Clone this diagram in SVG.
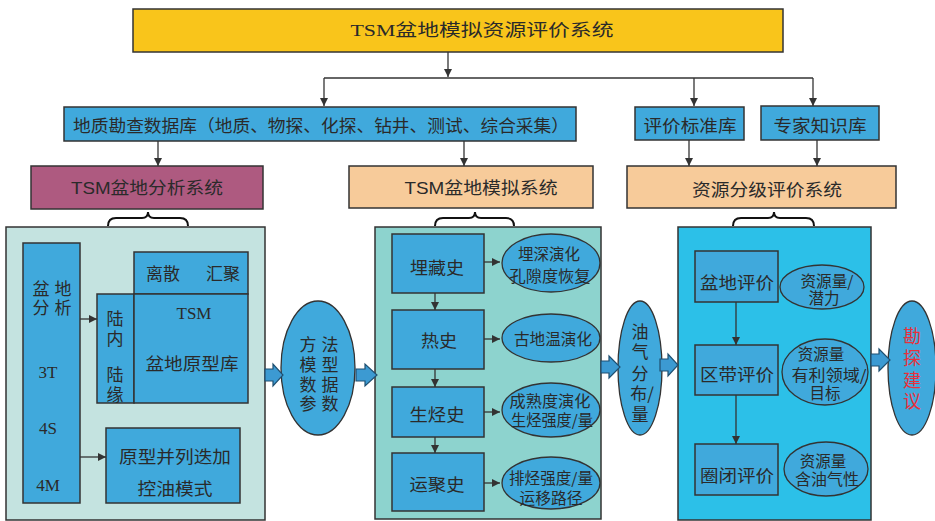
<svg xmlns="http://www.w3.org/2000/svg" width="935" height="521" viewBox="0 0 935 521">
<defs>
<marker id="ah" markerWidth="8" markerHeight="8" refX="8" refY="4" orient="auto" markerUnits="userSpaceOnUse">
<path d="M0,0 L8,4 L0,8 z" fill="#333"/>
</marker>
</defs>
<style>
.bx{stroke:#333;stroke-width:1.5}
.blue{fill:#40A9DC}
.el{fill:#40A9DC;stroke:#333;stroke-width:1.3}
.t{font-family:"Noto Sans CJK SC",sans-serif;fill:#2a2a2a;dominant-baseline:central;text-anchor:middle;font-size:17px}
.sf{font-family:"Liberation Serif","Noto Sans CJK SC",serif}
.ss{font-family:"Liberation Sans","Noto Sans CJK SC",sans-serif}
.s15{font-size:15.5px}
.red{fill:#E8303A;font-size:18px}
.conn{stroke:#333;stroke-width:1.3;fill:none}
.brace{stroke:#111;stroke-width:2;fill:none}
.barrow{fill:#3C9AD2;stroke:#1f4f70;stroke-width:1.2}
</style>
<rect width="935" height="521" fill="#fff"/>

<g id="top">
<rect class="bx" x="133" y="9" width="650" height="43" fill="#F9C51B"/>
<text class="t sf" x="482" y="30" font-size="19" textLength="263" lengthAdjust="spacingAndGlyphs">TSM盆地模拟资源评价系统</text>
</g>
<g id="geodb">
<rect class="bx blue" x="64" y="107" width="512" height="34"/>
<text class="t" x="321" y="124" font-size="16.5" textLength="496" lengthAdjust="spacingAndGlyphs">地质勘查数据库（地质、物探、化探、钻井、测试、综合采集）</text>
</g>
<g id="standard">
<rect class="bx blue" x="635" y="107" width="109" height="33"/>
<text class="t" x="690" y="124" textLength="93" lengthAdjust="spacingAndGlyphs">评价标准库</text>
</g>
<g id="expert">
<rect class="bx blue" x="761" y="106" width="118" height="34"/>
<text class="t" x="820" y="124" textLength="93" lengthAdjust="spacingAndGlyphs">专家知识库</text>
</g>
<g id="analysis">
<rect class="bx" x="31" y="166" width="232" height="43" fill="#AE5A80"/>
<text class="t ss" x="147" y="188" textLength="152" lengthAdjust="spacingAndGlyphs">TSM盆地分析系统</text>
</g>
<g id="simulation">
<rect class="bx" x="349" y="166" width="244" height="42" fill="#F7CB9A"/>
<text class="t ss" x="481" y="188" textLength="153" lengthAdjust="spacingAndGlyphs">TSM盆地模拟系统</text>
</g>
<g id="grading">
<rect class="bx" x="627" y="166" width="269" height="42" fill="#F7CB9A"/>
<text class="t" x="767" y="188" textLength="150" lengthAdjust="spacingAndGlyphs">资源分级评价系统</text>
</g>

<g id="braces">
<path class="brace" d="M108,226 Q108,218 116,218 L142,218 Q148,218 148,212 Q148,218 154,218 L180,218 Q188,218 188,226"/>
<path class="brace" d="M435,226 Q435,218 443,218 L469,218 Q475,218 475,212 Q475,218 481,218 L506,218 Q514,218 514,226"/>
<path class="brace" d="M733,226 Q733,218 741,218 L768,218 Q774,218 774,212 Q774,218 780,218 L806,218 Q814,218 814,226"/>
</g>

<g id="leftpanel">
<rect class="bx" x="6" y="227" width="259" height="293" fill="#C4E3E0"/>
</g>
<g id="basinbox">
<rect class="bx blue" x="23" y="243" width="57" height="260"/>
<text class="t"><tspan x="41" y="287">盆</tspan><tspan x="63" y="287">地</tspan><tspan x="41" y="306">分</tspan><tspan x="63" y="306">析</tspan></text>
<text class="t sf" x="48" y="372" font-size="20">3T</text>
<text class="t sf" x="48" y="428" font-size="20">4S</text>
<text class="t sf" x="48" y="485" font-size="20">4M</text>
</g>
<g id="lisan">
<rect class="bx blue" x="134" y="252" width="114" height="42"/>
<text class="t" x="163" y="272">离散</text>
<text class="t" x="223" y="272">汇聚</text>
</g>
<g id="luneiluyuan">
<rect class="bx blue" x="97" y="294" width="37" height="109"/>
<text class="t"><tspan x="115" y="317">陆</tspan><tspan x="115" y="337">内</tspan><tspan x="115" y="373">陆</tspan><tspan x="115" y="393">缘</tspan></text>
</g>
<g id="prototype">
<rect class="bx blue" x="134" y="294" width="114" height="109"/>
<text class="t sf" x="194" y="313" font-size="19">TSM</text>
<text class="t" x="192" y="362" textLength="93" lengthAdjust="spacingAndGlyphs">盆地原型库</text>
</g>
<g id="parallel">
<rect class="bx blue" x="106" y="428" width="134" height="75"/>
<text class="t" x="175" y="455" textLength="112" lengthAdjust="spacingAndGlyphs">原型并列迭加</text>
<text class="t" x="175" y="487" textLength="75" lengthAdjust="spacingAndGlyphs">控油模式</text>
</g>

<g id="method">
<ellipse class="el" cx="318" cy="368" rx="37" ry="67"/>
<text class="t"><tspan x="308" y="343">方</tspan><tspan x="330" y="343">法</tspan><tspan x="308" y="363">模</tspan><tspan x="330" y="363">型</tspan><tspan x="308" y="383">数</tspan><tspan x="330" y="383">据</tspan><tspan x="308" y="402">参</tspan><tspan x="330" y="402">数</tspan></text>
</g>

<g id="midpanel">
<rect class="bx" x="375" y="227" width="226" height="292" fill="#8DD3CE"/>
</g>
<g id="burial">
<rect class="bx blue" x="392" y="234" width="92" height="59"/>
<text class="t" x="437" y="266" textLength="54" lengthAdjust="spacingAndGlyphs">埋藏史</text>
</g>
<g id="thermal">
<rect class="bx blue" x="392" y="310" width="92" height="59"/>
<text class="t" x="439" y="339" textLength="36" lengthAdjust="spacingAndGlyphs">热史</text>
</g>
<g id="generation">
<rect class="bx blue" x="392" y="387" width="92" height="50"/>
<text class="t" x="437" y="413" textLength="55" lengthAdjust="spacingAndGlyphs">生烃史</text>
</g>
<g id="migration">
<rect class="bx blue" x="392" y="453" width="92" height="58"/>
<text class="t" x="437" y="483" textLength="55" lengthAdjust="spacingAndGlyphs">运聚史</text>
</g>
<g id="e1">
<ellipse class="el" cx="551" cy="263" rx="49" ry="29"/>
<text class="t s15"><tspan x="549" y="253" textLength="62" lengthAdjust="spacingAndGlyphs">埋深演化</tspan><tspan x="550" y="275" textLength="81" lengthAdjust="spacingAndGlyphs">孔隙度恢复</tspan></text>
</g>
<g id="e2">
<ellipse class="el" cx="551" cy="338" rx="49" ry="24"/>
<text class="t s15" x="553" y="338" textLength="78" lengthAdjust="spacingAndGlyphs">古地温演化</text>
</g>
<g id="e3">
<ellipse class="el" cx="551" cy="410" rx="49" ry="27"/>
<text class="t s15"><tspan x="550" y="400" textLength="81" lengthAdjust="spacingAndGlyphs">成熟度演化</tspan><tspan x="552" y="419" textLength="82" lengthAdjust="spacingAndGlyphs">生烃强度/量</tspan></text>
</g>
<g id="e4">
<ellipse class="el" cx="551" cy="483" rx="49" ry="26"/>
<text class="t s15"><tspan x="551" y="477" textLength="84" lengthAdjust="spacingAndGlyphs">排烃强度/量</tspan><tspan x="551" y="497" textLength="63" lengthAdjust="spacingAndGlyphs">运移路径</tspan></text>
</g>

<g id="oilgas">
<ellipse class="el" cx="640" cy="368" rx="22" ry="67"/>
<text class="t"><tspan x="640" y="330">油</tspan><tspan x="640" y="350">气</tspan><tspan x="640" y="372">分</tspan><tspan x="642" y="392">布/</tspan><tspan x="640" y="413">量</tspan></text>
</g>

<g id="rightpanel">
<rect class="bx" x="678" y="227" width="193" height="293" fill="#2CC0E8"/>
</g>
<g id="basineval">
<rect class="bx blue" x="695" y="251" width="83" height="51"/>
<text class="t" x="737" y="281" textLength="74" lengthAdjust="spacingAndGlyphs">盆地评价</text>
</g>
<g id="playeval">
<rect class="bx blue" x="695" y="345" width="83" height="50"/>
<text class="t" x="737" y="373" textLength="74" lengthAdjust="spacingAndGlyphs">区带评价</text>
</g>
<g id="trapeval">
<rect class="bx blue" x="695" y="444" width="83" height="51"/>
<text class="t" x="737" y="474" textLength="74" lengthAdjust="spacingAndGlyphs">圈闭评价</text>
</g>
<g id="r1">
<ellipse class="el" cx="822" cy="287" rx="42" ry="22"/>
<text class="t s15"><tspan x="827" y="280" textLength="53" lengthAdjust="spacingAndGlyphs">资源量/</tspan><tspan x="824" y="297">潜力</tspan></text>
</g>
<g id="r2">
<ellipse class="el" cx="825" cy="372" rx="43" ry="33"/>
<text class="t s15"><tspan x="821" y="353">资源量</tspan><tspan x="829" y="374" textLength="75" lengthAdjust="spacingAndGlyphs">有利领域/</tspan><tspan x="825" y="392">目标</tspan></text>
</g>
<g id="r3">
<ellipse class="el" cx="826" cy="469" rx="42" ry="27"/>
<text class="t s15"><tspan x="823" y="460">资源量</tspan><tspan x="827" y="478" textLength="64" lengthAdjust="spacingAndGlyphs">含油气性</tspan></text>
</g>

<g id="advice">
<ellipse class="el" cx="912" cy="368" rx="24" ry="67"/>
<text class="t red"><tspan x="912" y="335">勘</tspan><tspan x="912" y="357">探</tspan><tspan x="912" y="379">建</tspan><tspan x="912" y="400">议</tspan></text>
</g>

<g id="connectors">
<path class="conn" d="M448,52 V77" marker-end="url(#ah)"/>
<path class="conn" d="M324,78 H813"/>
<path class="conn" d="M324,78 V106" marker-end="url(#ah)"/>
<path class="conn" d="M694,78 V106" marker-end="url(#ah)"/>
<path class="conn" d="M813,78 V106" marker-end="url(#ah)"/>
<path class="conn" d="M158,141 V166" marker-end="url(#ah)"/>
<path class="conn" d="M464,141 V166" marker-end="url(#ah)"/>
<path class="conn" d="M689,140 V166" marker-end="url(#ah)"/>
<path class="conn" d="M817,140 V166" marker-end="url(#ah)"/>
<path class="conn" d="M80,319 H97" marker-end="url(#ah)"/>
<path class="conn" d="M80,457 H106" marker-end="url(#ah)"/>
<path class="conn" d="M435,293 V310" marker-end="url(#ah)"/>
<path class="conn" d="M435,369 V387" marker-end="url(#ah)"/>
<path class="conn" d="M435,437 V453" marker-end="url(#ah)"/>
<path class="conn" d="M484,262 H500" marker-end="url(#ah)"/>
<path class="conn" d="M484,339 H500" marker-end="url(#ah)"/>
<path class="conn" d="M484,412 H500" marker-end="url(#ah)"/>
<path class="conn" d="M484,483 H500" marker-end="url(#ah)"/>
<path class="conn" d="M736,302 V345" marker-end="url(#ah)"/>
<path class="conn" d="M736,395 V444" marker-end="url(#ah)"/>
<polygon class="barrow" points="265,369 273,369 273,364 283,375 273,386 273,381 265,381"/>
<polygon class="barrow" points="356,369 365,369 365,364 377,375 365,386 365,381 356,381"/>
<polygon class="barrow" points="601,361 609,361 609,356 620,367 609,378 609,373 601,373"/>
<polygon class="barrow" points="660,359 668,359 668,354 678,365 668,376 668,371 660,371"/>
<polygon class="barrow" points="871,354 879,354 879,349 890,360 879,371 879,366 871,366"/>
</g>
</svg>
